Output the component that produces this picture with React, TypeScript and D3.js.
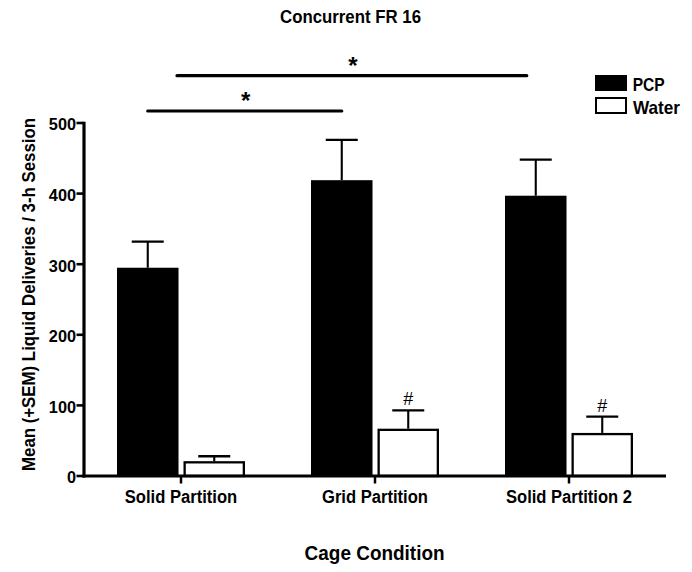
import React from "react";
import * as d3 from "d3";

const categories = ["Solid Partition", "Grid Partition", "Solid Partition 2"];
const seriesNames = ["PCP", "Water"];
const pcpMeans = [295, 419, 397];
const pcpSem = [37, 57, 51];
const waterMeans = [21, 67, 61];
const waterSem = [7, 26, 23];
const waterMarks = ["", "#", "#"];
const yTicks = [0, 100, 200, 300, 400, 500];
const sigValues = [517, 567];

const FONT = "'Liberation Sans', Arial, Helvetica, sans-serif";

function T(props: any) {
  const { len, children, ...rest } = props;
  return (
    <text {...rest} textLength={len} lengthAdjust="spacingAndGlyphs">
      {children}
    </text>
  );
}

export default function App() {
  const W = 692, H = 572;
  const y = d3.scaleLinear().domain([0, 500]).range([476, 123]);
  const x = d3.scaleBand<string>().domain(categories).range([84, 666]).padding(0);
  const inner = d3.scaleBand<string>().domain(seriesNames).range([-64, 64]).paddingInner(0.075);
  const cx = (c: string) => (x(c) as number) + x.bandwidth() / 2;
  const bw = inner.bandwidth();
  const capW = 32;
  const catLen = [112.5, 106, 126];

  const series = [
    { name: "PCP", means: pcpMeans, sem: pcpSem, fill: "#000" },
    { name: "Water", means: waterMeans, sem: waterSem, fill: "#fff" },
  ];

  const pcpCenter = (i: number) => cx(categories[i]) + (inner("PCP") as number) + bw / 2;

  const sigLines = [
    { x0: pcpCenter(0), x1: pcpCenter(1), v: sigValues[0] },
    { x0: cx(categories[0]) - 4, x1: pcpCenter(2) - 9, v: sigValues[1] },
  ];

  return (
    <svg width={W} height={H} style={{ position: "absolute", left: 0, top: 0, background: "#fff" }} fontFamily={FONT}>
      <rect x={0} y={0} width={W} height={H} fill="#fff" />
      <T x={350.5} y={22.5} textAnchor="middle" fontSize={17.7} fontWeight="bold" len={141}>Concurrent FR 16</T>

      {/* bars */}
      {series.map((s) =>
        categories.map((c, i) => {
          const bx = cx(c) + (inner(s.name) as number);
          const top = y(s.means[i]);
          const errTop = y(s.means[i] + s.sem[i]);
          const mid = bx + bw / 2;
          const isWater = s.name === "Water";
          return (
            <g key={s.name + c}>
              <line x1={mid} x2={mid} y1={top} y2={errTop} stroke="#000" strokeWidth={2.1} />
              <line x1={mid - capW / 2} x2={mid + capW / 2} y1={errTop} y2={errTop} stroke="#000" strokeWidth={2.3} />
              <rect
                x={isWater ? bx + 1.15 : bx}
                y={isWater ? top + 1.15 : top}
                width={isWater ? bw - 2.3 : bw}
                height={isWater ? y(0) - top - 1.15 : y(0) - top}
                fill={s.fill}
                stroke={isWater ? "#000" : "none"}
                strokeWidth={2.3}
              />
              {isWater && waterMarks[i] && (
                <text x={mid} y={errTop - 5} textAnchor="middle" fontSize={18}>{waterMarks[i]}</text>
              )}
            </g>
          );
        })
      )}

      {/* axes */}
      <line x1={84} x2={84} y1={y(500) - 1.3} y2={y(0) + 1.6} stroke="#000" strokeWidth={3.2} />
      <line x1={82.4} x2={666} y1={y(0)} y2={y(0)} stroke="#000" strokeWidth={3.2} />
      {yTicks.map((t) => (
        <g key={t}>
          <line x1={76.5} x2={84} y1={y(t)} y2={y(t)} stroke="#000" strokeWidth={2.6} />
          <text x={76} y={y(t) + 7.3} textAnchor="end" fontSize={16.3} fontWeight="bold">{t}</text>
        </g>
      ))}
      {categories.map((c, i) => (
        <g key={c}>
          <line x1={cx(c)} x2={cx(c)} y1={y(0)} y2={y(0) + 7.5} stroke="#000" strokeWidth={2.5} />
          <T x={cx(c)} y={502.5} textAnchor="middle" fontSize={18.7} fontWeight="bold" len={catLen[i]}>{c}</T>
        </g>
      ))}

      {/* significance */}
      {sigLines.map((l, i) => (
        <g key={i}>
          <line x1={l.x0} x2={l.x1} y1={y(l.v)} y2={y(l.v)} stroke="#000" strokeWidth={3.2} strokeLinecap="round" />
          <text x={(l.x0 + l.x1) / 2 + 1} y={y(l.v) - 2} textAnchor="middle" fontSize={24} fontWeight="bold">*</text>
        </g>
      ))}

      {/* legend */}
      <rect x={595} y={75} width={32} height={16} fill="#000" />
      <T x={632.7} y={90.7} fontSize={19} fontWeight="bold" len={32}>PCP</T>
      <rect x={596} y={98} width={30} height={15} fill="#fff" stroke="#000" strokeWidth={2} />
      <T x={633} y={114} fontSize={19} fontWeight="bold" len={47}>Water</T>

      {/* axis titles */}
      <T transform="translate(35, 294.5) rotate(-90)" textAnchor="middle" fontSize={19} fontWeight="bold" len={353}>
        Mean (+SEM) Liquid Deliveries / 3-h Session
      </T>
      <T x={374.6} y={560} textAnchor="middle" fontSize={20.5} fontWeight="bold" len={140}>Cage Condition</T>
    </svg>
  );
}
